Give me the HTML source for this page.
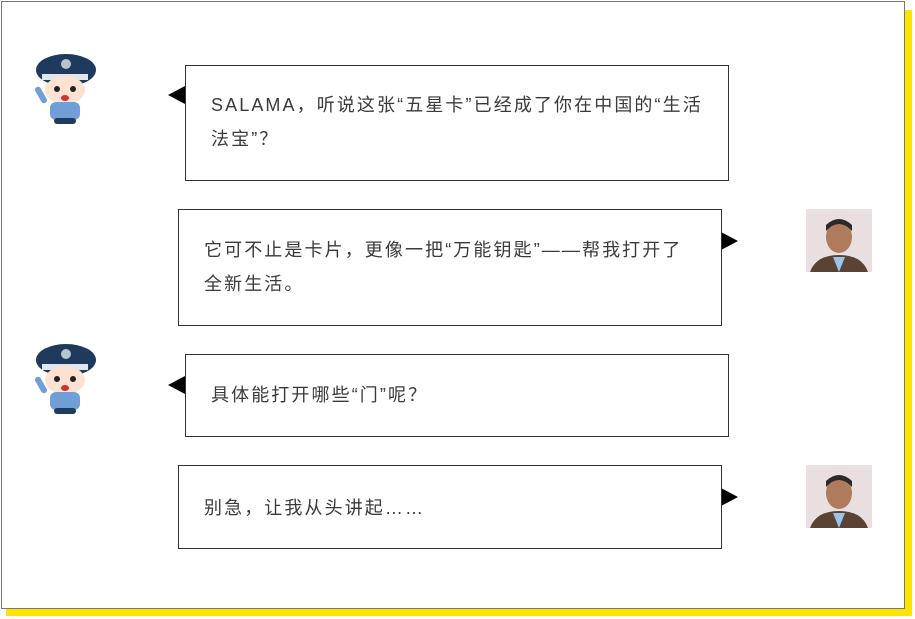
<!DOCTYPE html>
<html><head><meta charset="utf-8"><style>
body{margin:0;width:915px;height:619px;background:#fff;position:relative;overflow:hidden;font-family:"Liberation Sans","Noto Sans CJK SC",sans-serif;}
.a{position:absolute}
.shadow{left:6px;top:10px;width:906px;height:606px;background:#ffe200}
.frame{left:1px;top:1px;width:904px;height:608px;background:#fff;border:1px solid #777;box-sizing:border-box}
.box{position:absolute;border:1px solid #333;background:#fff;box-sizing:border-box;color:#3a3a3a;font-size:18px;line-height:34px;padding-left:25px;letter-spacing:2.1px;white-space:nowrap}
.tl{width:0;height:0;border-top:9px solid transparent;border-bottom:9px solid transparent;border-right:17px solid #000;position:absolute}
.tr{width:0;height:0;border-top:9px solid transparent;border-bottom:9px solid transparent;border-left:17px solid #000;position:absolute}
</style></head><body>
<div class="a shadow"></div>
<div class="a frame"></div>

<svg class="a" style="left:30px;top:50px" width="72" height="76" viewBox="0 0 72 76">
<ellipse cx="36" cy="20" rx="30" ry="16" fill="#1e3a5c"/>
<rect x="12" y="24" width="46" height="6" fill="#dfe6ee"/>
<circle cx="36" cy="14" r="5" fill="#b8c4d0"/>
<ellipse cx="35" cy="40" rx="20" ry="14" fill="#fde2d2"/>
<circle cx="27" cy="39" r="3" fill="#222"/><circle cx="43" cy="39" r="3" fill="#222"/>
<ellipse cx="35" cy="48" rx="4" ry="3" fill="#c33"/>
<rect x="20" y="52" width="30" height="18" rx="6" fill="#6f9fd6"/>
<rect x="8" y="36" width="6" height="18" rx="3" fill="#6f9fd6" transform="rotate(-30 11 45)"/>
<rect x="24" y="68" width="22" height="6" rx="3" fill="#1e3a5c"/>
</svg>
<svg class="a" style="left:30px;top:340px" width="72" height="76" viewBox="0 0 72 76">
<ellipse cx="36" cy="20" rx="30" ry="16" fill="#1e3a5c"/>
<rect x="12" y="24" width="46" height="6" fill="#dfe6ee"/>
<circle cx="36" cy="14" r="5" fill="#b8c4d0"/>
<ellipse cx="35" cy="40" rx="20" ry="14" fill="#fde2d2"/>
<circle cx="27" cy="39" r="3" fill="#222"/><circle cx="43" cy="39" r="3" fill="#222"/>
<ellipse cx="35" cy="48" rx="4" ry="3" fill="#c33"/>
<rect x="20" y="52" width="30" height="18" rx="6" fill="#6f9fd6"/>
<rect x="8" y="36" width="6" height="18" rx="3" fill="#6f9fd6" transform="rotate(-30 11 45)"/>
<rect x="24" y="68" width="22" height="6" rx="3" fill="#1e3a5c"/>
</svg>

<svg class="a" style="left:806px;top:209px" width="66" height="63" viewBox="0 0 66 63">
<rect width="66" height="63" fill="#eadfe0"/>
<ellipse cx="33" cy="28" rx="13" ry="16" fill="#b07a5c"/>
<path d="M20 22 Q33 8 46 22 L46 16 Q33 4 20 16Z" fill="#2a2a2a"/>
<path d="M4 63 Q10 46 33 46 Q56 46 62 63Z" fill="#5a4334"/>
<path d="M27 48 L33 63 L39 48Z" fill="#9cc4ea"/>
</svg>
<svg class="a" style="left:806px;top:465px" width="66" height="63" viewBox="0 0 66 63">
<rect width="66" height="63" fill="#eadfe0"/>
<ellipse cx="33" cy="28" rx="13" ry="16" fill="#b07a5c"/>
<path d="M20 22 Q33 8 46 22 L46 16 Q33 4 20 16Z" fill="#2a2a2a"/>
<path d="M4 63 Q10 46 33 46 Q56 46 62 63Z" fill="#5a4334"/>
<path d="M27 48 L33 63 L39 48Z" fill="#9cc4ea"/>
</svg>

<div class="tl" style="left:168px;top:86px"></div>
<div class="box" style="left:185px;top:65px;width:544px;height:116px;padding-top:22px">SALAMA，听说这张“五星卡”已经成了你在中国的“生活<br>法宝”？</div>

<div class="tr" style="left:721px;top:232px"></div>
<div class="box" style="left:178px;top:209px;width:544px;height:117px;padding-top:23px">它可不止是卡片，更像一把“万能钥匙”——帮我打开了<br>全新生活。</div>

<div class="tl" style="left:168px;top:376px"></div>
<div class="box" style="left:185px;top:354px;width:544px;height:83px;padding-top:23px">具体能打开哪些“门”呢？</div>

<div class="tr" style="left:721px;top:488px"></div>
<div class="box" style="left:178px;top:465px;width:544px;height:84px;padding-top:25px">别急，让我从头讲起……</div>
</body></html>
